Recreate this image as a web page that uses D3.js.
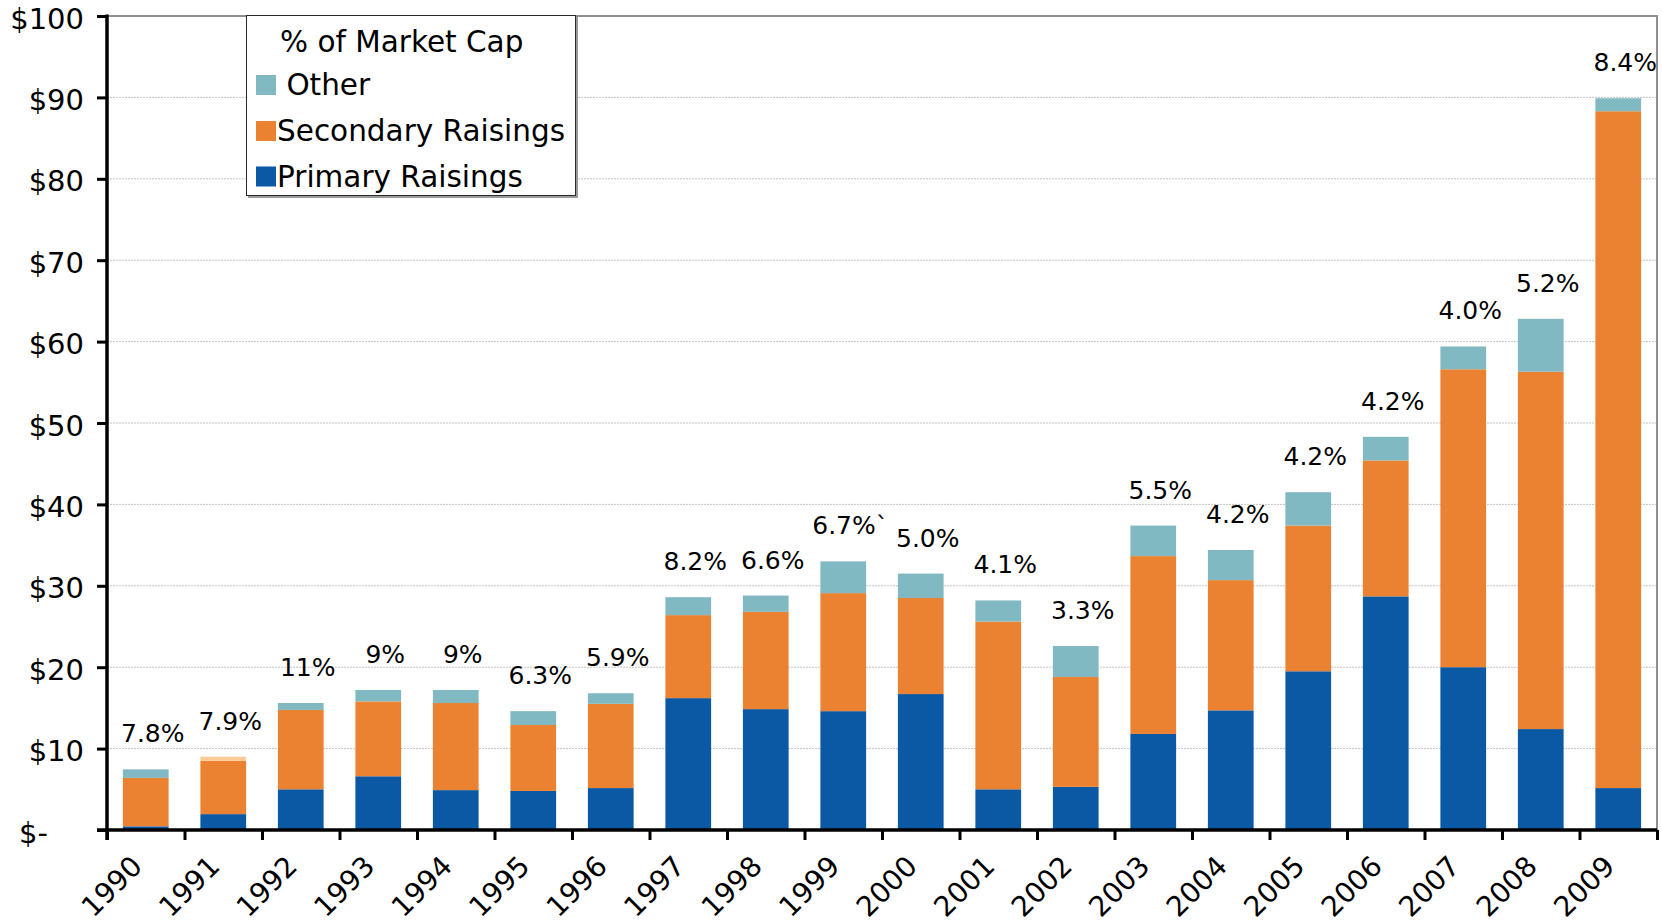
<!DOCTYPE html>
<html>
<head>
<meta charset="utf-8">
<script src="https://cdn.jsdelivr.net/npm/d3@7"></script>
<style>
  body { margin: 0; background: #fff; }
  svg, svg text { font-family: 'DejaVu Sans', Verdana, sans-serif; }
  svg { display: block; }
</style>
</head>
<body>
<svg id="chart" width="1662" height="922"></svg>
<script>
// data ($bn)
const years = ['1990', '1991', '1992', '1993', '1994', '1995', '1996', '1997', '1998', '1999',
               '2000', '2001', '2002', '2003', '2004', '2005', '2006', '2007', '2008', '2009'];
const primary   = [0.45, 1.95, 5.0, 6.6, 4.9, 4.8, 5.15, 16.2, 14.85, 14.6,
                   16.7, 5.0, 5.3, 11.8, 14.7, 19.5, 28.7, 20.0, 12.4, 5.15];
const secondary = [5.95, 6.55, 9.75, 9.2, 10.7, 8.1, 10.35, 10.2, 11.95, 14.5,
                   11.8, 20.6, 13.5, 21.85, 16.0, 17.9, 16.7, 36.6, 43.9, 83.15];
const other     = [1.05, 0.5, 0.85, 1.4, 1.6, 1.7, 1.3, 2.2, 2.0, 3.9,
                   3.0, 2.6, 3.8, 3.75, 3.7, 4.1, 2.9, 2.8, 6.5, 1.6];
const pctLabels = ['7.8%', '7.9%', '11%', '9%', '9%', '6.3%', '5.9%', '8.2%', '6.6%', '6.7%`',
                   '5.0%', '4.1%', '3.3%', '5.5%', '4.2%', '4.2%', '4.2%', '4.0%', '5.2%', '8.4%'];
const yTicks = [0, 10, 20, 30, 40, 50, 60, 70, 80, 90, 100];
const seriesKeys = ['primary', 'secondary', 'other'];
const legendTitle = '% of Market Cap';
const legendLabels = [' Other', 'Secondary Raisings', 'Primary Raisings'];

const colors = {primary: '#0b59a5', secondary: '#eb8232', other: '#80b9c1'};
const oddOther = {'1991': '#fdca96'};   // 1991 top piece is drawn peach in the original

const pLeft = 107, pRight = 1657, pTop = 16, pBottom = 830;
const font = "'DejaVu Sans', Verdana, sans-serif";

const rows = years.map((yr, i) => ({year: yr, primary: primary[i], secondary: secondary[i], other: other[i]}));
const stacked = d3.stack().keys(seriesKeys)(rows);

const x = d3.scaleBand().domain(years).range([pLeft, pRight]).paddingInner(0.41).paddingOuter(0.205);
const y = d3.scaleLinear().domain([0, 100]).range([pBottom, pTop]);
const edges = d3.scaleLinear().domain([0, years.length]).range([pLeft, pRight]);

const svg = d3.select('#chart');

/* grid + frame */
svg.append('g').selectAll('line')
  .data(yTicks.filter(t => t > 0 && t < 100)).enter()
  .append('line')
  .attr('x1', pLeft).attr('x2', pRight)
  .attr('y1', d => y(d)).attr('y2', d => y(d))
  .attr('stroke', '#c4c4c4').attr('stroke-width', 1).attr('stroke-dasharray', '2,1');

svg.append('path')
  .attr('d', `M${pLeft},${y(100)}H${pRight}V${y(0)}`)
  .attr('fill', 'none').attr('stroke', '#8f8f8f').attr('stroke-width', 2);

/* bars */
svg.append('g').selectAll('g')
  .data(stacked).enter()
  .append('g')
  .selectAll('rect')
  .data(s => s.map(d => ({key: s.key, d: d}))).enter()
  .append('rect')
  .attr('x', p => x(p.d.data.year))
  .attr('width', x.bandwidth())
  .attr('y', p => y(p.d[1]))
  .attr('height', p => y(p.d[0]) - y(p.d[1]))
  .attr('fill', p => (p.key === 'other' && oddOther[p.d.data.year]) || colors[p.key]);

/* % labels */
const totals = stacked[stacked.length - 1];
svg.append('g').selectAll('text')
  .data(totals).enter()
  .append('text')
  .attr('x', (d, i) => x(years[i]) + x.bandwidth() / 2 + 7)
  .attr('y', d => y(d[1]) - 27)
  .attr('text-anchor', 'middle')
  .style('font-size', '25px')
  .attr('fill', '#000')
  .text((d, i) => pctLabels[i]);

/* axes */
const yAxis = d3.axisLeft(y).tickValues(yTicks).tickSize(10).tickSizeOuter(0).tickPadding(13)
  .tickFormat(d => d === 0 ? '$-' : '$' + d);
const gy = svg.append('g').attr('transform', `translate(${pLeft},0)`).call(yAxis)
  .attr('font-family', font);
gy.select('.domain').attr('stroke', '#000').attr('stroke-width', 3.5)
  .attr('d', `M0,${y(100) - 1.5}V${pBottom + 10}`);
gy.selectAll('.tick line').attr('stroke', '#000').attr('stroke-width', 3);
gy.selectAll('.tick text')
  .style('font-size', '29px').attr('fill', '#000').attr('dy', '0.42em')
  .attr('dx', d => d === 0 ? -36 : 0);

const gxTicks = svg.append('g').attr('transform', `translate(0,${pBottom})`)
  .call(d3.axisBottom(edges).tickValues(d3.range(years.length + 1)).tickSize(10).tickSizeOuter(0).tickFormat(''));
gxTicks.select('.domain').attr('stroke', '#000').attr('stroke-width', 3.5)
  .attr('d', `M${pLeft - 10},0H${pRight}`);
gxTicks.selectAll('.tick line').attr('stroke', '#000').attr('stroke-width', 3);

const gx = svg.append('g').attr('transform', `translate(0,${pBottom})`)
  .call(d3.axisBottom(x).tickSize(0))
  .attr('font-family', font);
gx.select('.domain').remove();
gx.selectAll('.tick text')
  .attr('x', 0).attr('y', 0).attr('dy', 0)
  .attr('text-anchor', 'end')
  .attr('transform', 'translate(-2,38) rotate(-45)')
  .style('font-size', '28px').attr('fill', '#000');

/* legend */
const legend = svg.append('g').attr('id', 'legend');
legend.append('rect')
  .attr('x', 248).attr('y', 17).attr('width', 330).attr('height', 181)
  .attr('fill', '#9a9a9a');
legend.append('rect')
  .attr('x', 246.5).attr('y', 15.5).attr('width', 329).attr('height', 180)
  .attr('fill', '#fff').attr('stroke', '#2b2b2b').attr('stroke-width', 1);
legend.append('text')
  .attr('x', 280).attr('y', 52)
  .style('font-size', '29.5px').attr('fill', '#000')
  .text(legendTitle);

const legendKeys = ['other', 'secondary', 'primary'];
const legendRowY = [95, 141, 186.5];
legendKeys.forEach((k, i) => {
  legend.append('rect')
    .attr('x', 256).attr('y', legendRowY[i] - 20).attr('width', 20).attr('height', 20)
    .attr('fill', colors[k]);
  legend.append('text')
    .attr('x', 277).attr('y', legendRowY[i])
    .style('font-size', '29.5px').style('white-space', 'pre').attr('fill', '#000')
    .text(legendLabels[i]);
});
</script>
</body>
</html>
